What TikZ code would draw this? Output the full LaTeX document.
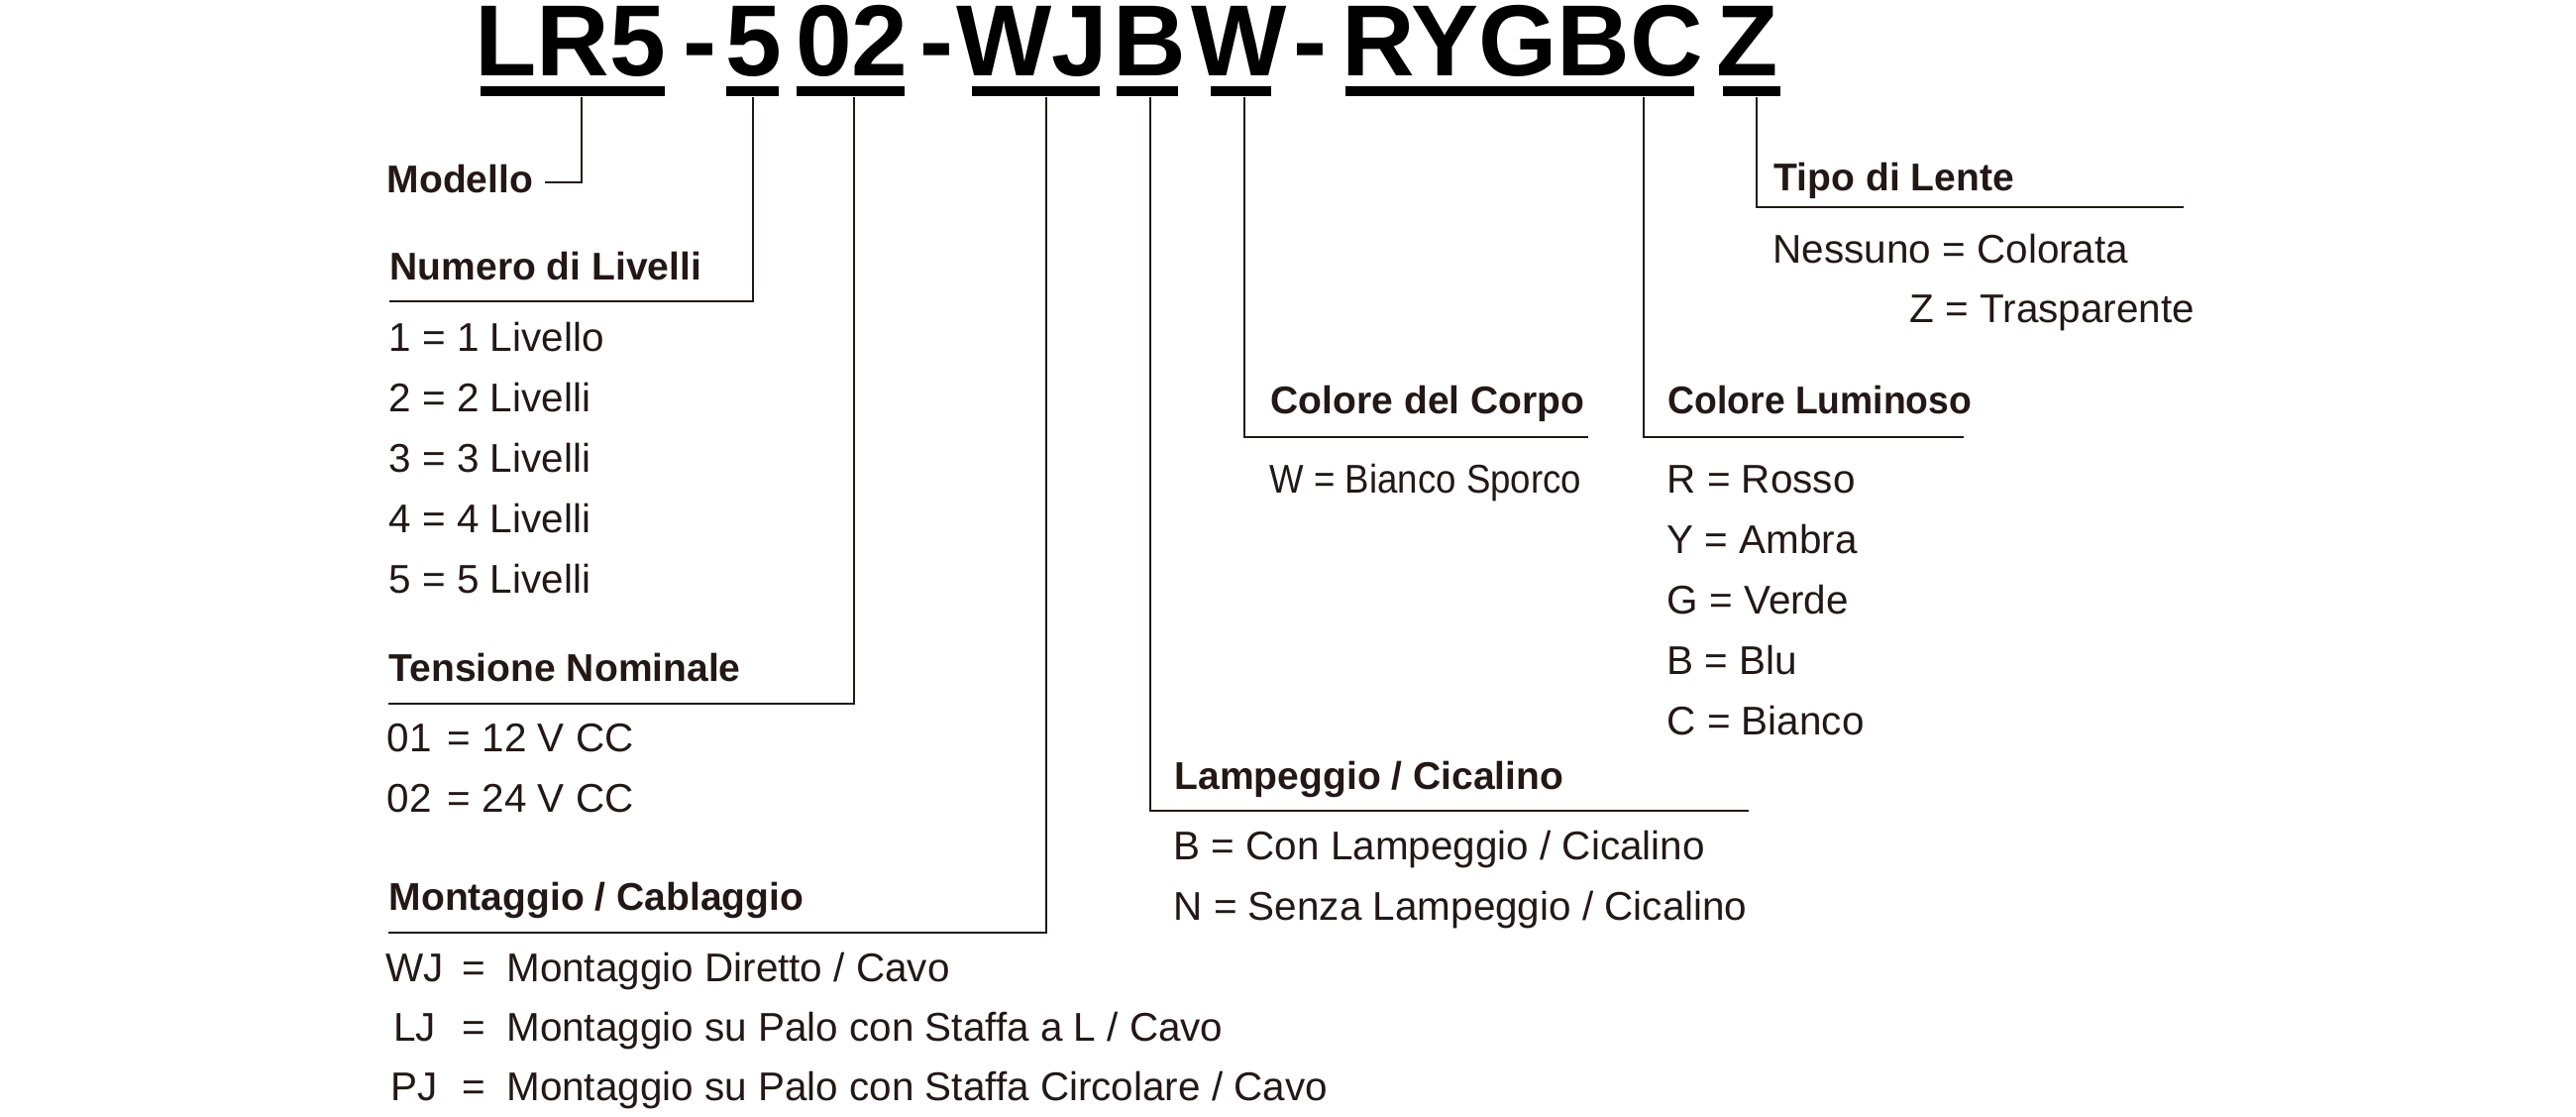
\documentclass[tikz,border=0pt]{standalone}
\usepackage{fontspec}
\setmainfont{Liberation Sans}
\newfontfamily\narrowfont[FakeStretch=0.905]{Liberation Sans}
\newfontfamily\narrowhead[FakeStretch=0.955]{Liberation Sans}
\definecolor{ink}{HTML}{231815}

\begin{document}
\begin{tikzpicture}[x=0.01cm, y=-0.01cm,
	code/.style={font=\fontsize{29}{30}\selectfont\bfseries, anchor=base, inner sep=0pt},
	bar/.style={fill=black, inner sep=0pt, minimum height=0.1cm},
	head/.style={font=\fontsize{11.1}{12}\selectfont\bfseries, text=ink, anchor=base west, inner sep=0pt},
	item/.style={font=\fontsize{11.5}{12}\selectfont, text=ink, anchor=base west, inner sep=0pt},
	lead/.style={draw=ink, line width=0.45pt}]
\useasboundingbox (0,0) rectangle (2600,1126);

\node[code] (tLR) at (576,76) {LR5}; % model
\node[code] (tD1) at (706,76) {-};
\node[code] (tLiv) at (761,76) {5}; % levels
\node[code] (tTen) at (860,76) {02}; % voltage
\node[code] (tD2) at (945,76) {-};
\node[code] (tMon) at (1042,76) {WJ}; % mounting
\node[code] (tLam) at (1160,76) {B}; % flashing
\node[code] (tCor) at (1251,76) {W}; % body
\node[code] (tD3) at (1322,76) {-};
\node[code] (tLum) at (1537,76) {RYGBC}; % light
\node[code] (tTip) at (1764,76) {Z}; % lens

\node[bar, minimum width=1.86cm] (bLR) at (578,92) {};
\node[bar, minimum width=0.53cm] (bLiv) at (759.5,92) {};
\node[bar, minimum width=1.09cm] (bTen) at (858.5,92) {};
\node[bar, minimum width=1.29cm] (bMon) at (1045.5,92) {};
\node[bar, minimum width=0.62cm] (bLam) at (1158,92) {};
\node[bar, minimum width=0.61cm] (bCor) at (1252.5,92) {};
\node[bar, minimum width=3.52cm] (bLum) at (1534,92) {};
\node[bar, minimum width=0.58cm] (bTip) at (1768,92) {};

% Modello
\node[head] (hMod) at (390,194) {Modello};
\coordinate (kMod) at (587,184);
\draw[lead] ([xshift=0.11cm]hMod.east |- kMod) -- (kMod) -- (kMod |- bLR.south);

% Numero di Livelli
\node[head] (hLiv) at (393,282) {Numero di Livelli};
\coordinate (kLiv) at (760,304);
\draw[lead] (hLiv.west |- kLiv) -- (kLiv) -- (kLiv |- bLiv.south);
\node[item] (l1) at (392,354) {1 = 1 Livello};
\node[item] (l2) at (392,415) {2 = 2 Livelli};
\node[item] (l3) at (392,476) {3 = 3 Livelli};
\node[item] (l4) at (392,537) {4 = 4 Livelli};
\node[item] (l5) at (392,598) {5 = 5 Livelli};

% Tensione Nominale
\node[head] (hTen) at (392,687) {Tensione Nominale};
\coordinate (kTen) at (862,710);
\draw[lead] (hTen.west |- kTen) -- (kTen) -- (kTen |- bTen.south);
\node[item] (v1) at (390,758) {01\hspace{0.05cm} = 12 V CC};
\node[item] (v2) at (390,819) {02\hspace{0.05cm} = 24 V CC};

% Montaggio / Cablaggio
\node[head] (hMon) at (392,918) {Montaggio / Cablaggio};
\coordinate (kMon) at (1056,941);
\draw[lead] (hMon.west |- kMon) -- (kMon) -- (kMon |- bMon.south);
\node[item, anchor=base] (mWJ) at (418.5,990) {WJ};
\node[item] (dWJ) at (466,990) {=\hspace{0.21cm}Montaggio Diretto / Cavo};
\node[item, anchor=base] (mLJ) at (418.5,1050) {LJ};
\node[item] (dLJ) at (466,1050) {=\hspace{0.21cm}Montaggio su Palo con Staffa a L / Cavo};
\node[item, anchor=base] (mPJ) at (418.5,1110) {PJ};
\node[item] (dPJ) at (466,1110) {=\hspace{0.21cm}Montaggio su Palo con Staffa Circolare / Cavo};

% Lampeggio / Cicalino
\node[head] (hLam) at (1185,796) {Lampeggio / Cicalino};
\coordinate (kLam) at (1161,818);
\coordinate (eLam) at (1765,818);
\draw[lead] (eLam) -- (kLam) -- (kLam |- bLam.south);
\node[item] (f1) at (1184,867) {B = Con Lampeggio / Cicalino};
\node[item] (f2) at (1184,928) {N = Senza Lampeggio / Cicalino};

% Colore del Corpo
\node[head] (hCor) at (1282,417) {Colore del Corpo};
\coordinate (kCor) at (1256,441);
\coordinate (eCor) at (1603,441);
\draw[lead] (eCor) -- (kCor) -- (kCor |- bCor.south);
\node[item, font=\fontsize{11.5}{12}\selectfont\narrowfont] (c1) at (1281,497) {W = Bianco Sporco};

% Colore Luminoso
\node[head, font=\fontsize{11.1}{12}\selectfont\narrowhead\bfseries] (hLum) at (1683,417) {Colore Luminoso};
\coordinate (kLum) at (1659,441);
\coordinate (eLum) at (1982,441);
\draw[lead] (eLum) -- (kLum) -- (kLum |- bLum.south);
\node[item] (r1) at (1682,497) {R = Rosso};
\node[item] (r2) at (1682,558) {Y = Ambra};
\node[item] (r3) at (1682,619) {G = Verde};
\node[item] (r4) at (1682,680) {B = Blu};
\node[item] (r5) at (1682,741) {C = Bianco};

% Tipo di Lente
\node[head] (hTip) at (1790,192) {Tipo di Lente};
\coordinate (kTip) at (1773,209);
\coordinate (eTip) at (2204,209);
\draw[lead] (eTip) -- (kTip) -- (kTip |- bTip.south);
\node[item] (z1) at (1789,265) {Nessuno = Colorata};
\node[item] (z2) at (1927,325) {Z = Trasparente};
\end{tikzpicture}
\end{document}
